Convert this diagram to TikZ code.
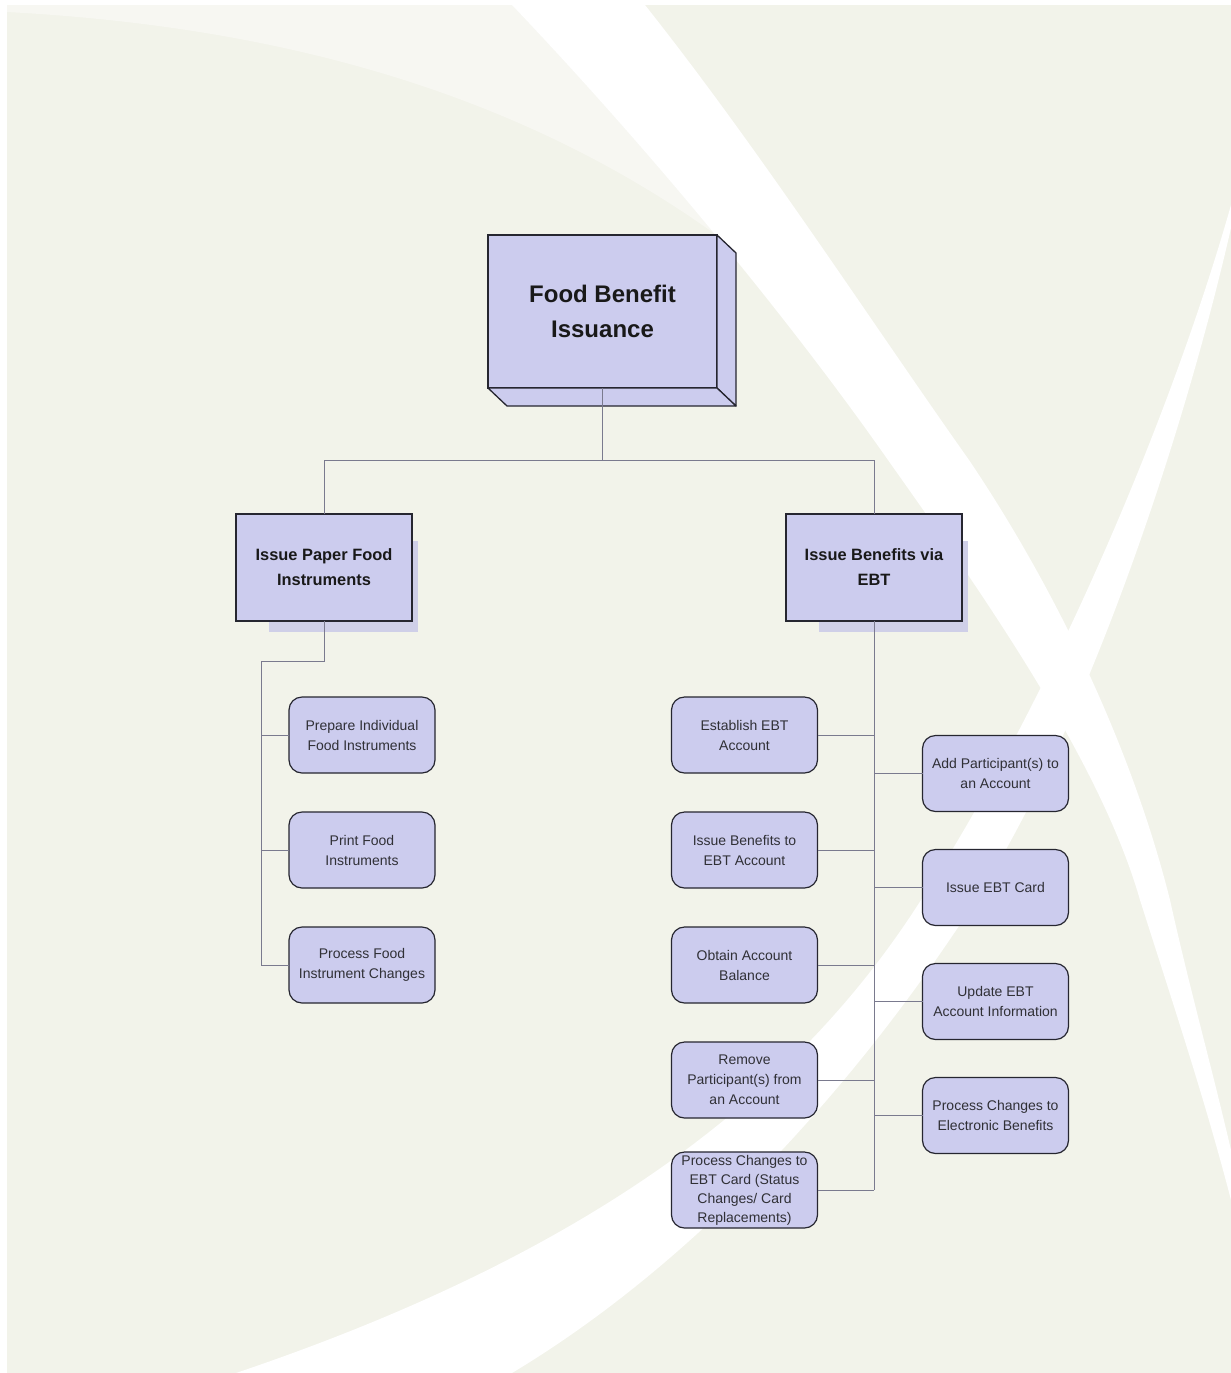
\documentclass[tikz,border=0pt]{standalone}
\usepackage{fontspec}
\setmainfont{Liberation Sans}
\usetikzlibrary{positioning,shadows}
\definecolor{lav}{RGB}{204,204,238}
\definecolor{lavshade}{RGB}{207,207,232}
\definecolor{beige}{RGB}{242,243,234}
\definecolor{beigelight}{RGB}{247,247,242}
\definecolor{edgecol}{RGB}{38,38,48}
\definecolor{wirecol}{RGB}{122,122,142}
\definecolor{txtcol}{RGB}{48,48,54}
\tikzstyle{topbox}=[rectangle,draw=edgecol,line width=0.65pt,fill=lav,minimum width=114.5pt,
minimum height=76.5pt,inner sep=0pt,outer sep=0pt,align=center,text=black!90,
font=\bfseries\fontsize{12}{17.5}\selectfont]
\tikzstyle{face}=[draw=edgecol,line width=0.65pt,fill=lav,line join=round]
\tikzstyle{midbox}=[rectangle,draw=edgecol,line width=0.55pt,fill=lav,minimum width=88pt,
minimum height=53.5pt,inner sep=0pt,outer sep=0pt,align=center,text=black!90,
font=\bfseries\fontsize{8.2}{12.5}\selectfont,
drop shadow={shadow xshift=11.5pt,shadow yshift=-11pt,shadow scale=0.85,fill=lavshade,opacity=1,draw=none}]
\tikzstyle{task}=[rectangle,rounded corners=6.5pt,draw=edgecol,line width=0.6pt,fill=lav,
minimum width=73pt,minimum height=38pt,inner sep=0pt,outer sep=0pt,align=center,text=txtcol,
font=\fontsize{7}{10}\selectfont]
\tikzstyle{wire}=[draw=wirecol,line width=0.5pt]

\begin{document}
\begin{tikzpicture}[x=0.5pt,y=-0.5pt]
            \useasboundingbox (0,0) rectangle (1231,1373);

            % BACKGROUND PART

            \fill[white] (0,0) rectangle (1231,1373);
            \fill[beige] (7,5) rectangle (1231,1373);
            \fill[beigelight] (7,5) -- (512,5) .. controls (581,77) and (650,156) .. (715,234)
                .. controls (500,80) and (250,25) .. (7,12) -- cycle;
            \fill[white] (512,5) .. controls (650,150) and (790,320) .. (888,460)
                .. controls (980,590) and (1100,760) .. (1140,900)
                .. controls (1175,1010) and (1205,1100) .. (1231,1200) -- (1231,1150)
                .. controls (1210,1060) and (1190,990) .. (1170,900)
                .. controls (1130,740) and (1050,580) .. (969,460)
                .. controls (870,320) and (760,150) .. (645,5) -- cycle;
            \fill[white] (1231,205) .. controls (1170,420) and (1050,700) .. (921,900)
                .. controls (800,1090) and (600,1250) .. (236,1373) -- (512,1373)
                .. controls (700,1260) and (860,1080) .. (976,900)
                .. controls (1090,720) and (1185,430) .. (1231,228) -- cycle;

            % ISSUANCE PART

            \node[topbox] (fbi) at (602.5,311.5) {Food Benefit\\Issuance};
            \filldraw[face] (fbi.north east) -- ++(19,18) -- ++(0,153) -- (fbi.south east) -- cycle;
            \filldraw[face] (fbi.south west) -- ++(19,18) -- ++(229,0) -- (fbi.south east) -- cycle;

            \node[midbox] (paper) at (324,567.5) {Issue Paper Food\\Instruments};
            \node[midbox] (ebt) at (874,567.5) {Issue Benefits via\\EBT};

            % PAPER PART

            \node[task] (prep) at (362,735) {Prepare Individual\\Food Instruments};
            \node[task, below=19.5pt of prep] (print) {Print Food\\Instruments};
            \node[task, below=19.5pt of print] (pchg) {Process Food\\Instrument Changes};

            % EBT PART

            \node[task] (estab) at (744.5,735) {Establish EBT\\Account};
            \node[task, below=19.5pt of estab] (benef) {Issue Benefits to\\EBT Account};
            \node[task, below=19.5pt of benef] (bal) {Obtain Account\\Balance};
            \node[task, below=19.5pt of bal] (rem) {Remove\\Participant(s) from\\an Account};
            \node[task, below=17pt of rem, font=\fontsize{7}{9.5}\selectfont] (crd)
                {Process Changes to\\EBT Card (Status\\Changes/ Card\\Replacements)};

            \node[task] (addp) at (995.5,773.5) {Add Participant(s) to\\an Account};
            \node[task, below=19pt of addp] (card) {Issue EBT Card};
            \node[task, below=19pt of card] (upd) {Update EBT\\Account Information};
            \node[task, below=19pt of upd] (pelec) {Process Changes to\\Electronic Benefits};

            % Connections of Levels

            \coordinate (split) at (602.5,460);
            \draw[wire] (fbi.south) -- (split);
            \draw[wire] (paper.north) |- (split) -| (ebt.north);

            % Connections of Paper

            \coordinate (lbend) at (261,661);
            \draw[wire] (paper.south) |- (lbend) |- (pchg.west);
            \draw[wire] (prep.west) -- (prep.west -| lbend);
            \draw[wire] (print.west) -- (print.west -| lbend);

            % Connections of EBT

            \draw[wire] (ebt.south) -- (ebt.south |- crd.east);
            \draw[wire] (estab.east) -- (estab.east -| ebt.south);
            \draw[wire] (benef.east) -- (benef.east -| ebt.south);
            \draw[wire] (bal.east) -- (bal.east -| ebt.south);
            \draw[wire] (rem.east) -- (rem.east -| ebt.south);
            \draw[wire] (crd.east) -- (crd.east -| ebt.south);
            \draw[wire] (addp.west) -- (addp.west -| ebt.south);
            \draw[wire] (card.west) -- (card.west -| ebt.south);
            \draw[wire] (upd.west) -- (upd.west -| ebt.south);
            \draw[wire] (pelec.west) -- (pelec.west -| ebt.south);

\end{tikzpicture}
\end{document}
